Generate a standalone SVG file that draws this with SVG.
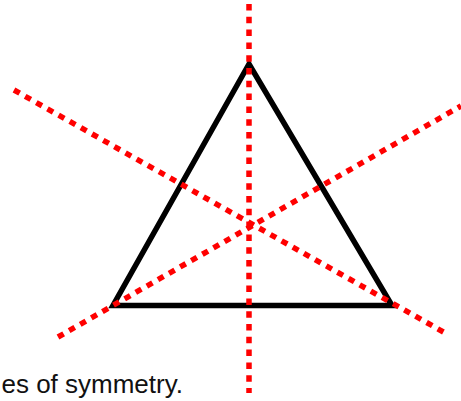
<svg xmlns="http://www.w3.org/2000/svg" width="461" height="401" viewBox="0 0 461 401">
  <style>
    .tri { fill: none; stroke: #000; stroke-width: 5.5; stroke-linejoin: miter; }
    .sym { fill: none; stroke: #ff0000; stroke-width: 5.5; stroke-dasharray: 6.5 6.3; }
    .cap { font-family: "Liberation Sans", Arial, sans-serif; font-size: 26px; fill: #111; }
  </style>
  <rect width="461" height="401" fill="#fff"/>
  <g id="triangle">
    <polygon class="tri" points="249,64 113,305.5 392,305.5"/>
  </g>
  <g id="symmetry-lines">
    <line class="sym" x1="249" y1="4" x2="249" y2="393"/>
    <line class="sym" x1="14" y1="90" x2="447" y2="334"/>
    <line class="sym" x1="58" y1="337" x2="461" y2="106"/>
  </g>
  <text class="cap" x="183" y="393" text-anchor="end">es of symmetry.</text>
</svg>
